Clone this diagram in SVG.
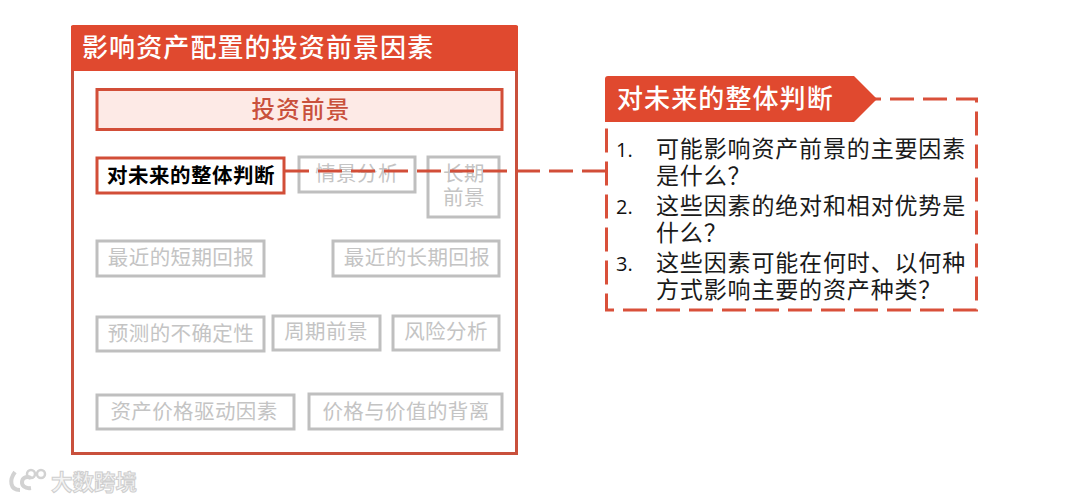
<svg xmlns="http://www.w3.org/2000/svg" width="1065" height="501" viewBox="0 0 1065 501">
<style>
text{font-family:"Noto Sans CJK SC","Liberation Sans",sans-serif}
.g rect{fill:#fff;stroke:#bfbfbf;stroke-width:3}
.g text{fill:#c4c4c4;font-size:20.5px;text-anchor:middle;letter-spacing:.4px}
.li{font-size:23px;fill:#1a1a1a;letter-spacing:.85px}
.n{font-family:"Open Sans",sans-serif;font-size:20px;fill:#111}
</style>
<rect width="1065" height="501" fill="#fff"/>
<g id="panel">
<rect x="72.500" y="27.500" width="444" height="426" fill="#fff" stroke="#c9503c" stroke-width="3"/>
<rect x="71" y="25" width="447" height="46" rx="2" fill="#e0492f"/>
<text x="82" y="57" font-size="26" font-weight="500" fill="#fff" letter-spacing="1.1">影响资产配置的投资前景因素</text>
</g>
<g id="header"><rect x="97" y="89.500" width="405" height="40" fill="#fdeae6" stroke="#d24e38" stroke-width="3"/><text x="301" y="118" font-size="23.500" font-weight="500" fill="#c9503c" text-anchor="middle" letter-spacing="1.2">投资前景</text></g>
<g id="n1" class="g"><rect x="299" y="157" width="116" height="35"/><text x="357" y="181">情景分析</text></g>
<g id="n2" class="g"><rect x="428" y="157" width="71" height="60"/><text x="464" y="181">长期</text><text x="464" y="205">前景</text></g>
<g id="n3" class="g"><rect x="97" y="241" width="167" height="35"/><text x="181" y="265">最近的短期回报</text></g>
<g id="n4" class="g"><rect x="333" y="241" width="166" height="35"/><text x="417" y="265">最近的长期回报</text></g>
<g id="n5" class="g"><rect x="97" y="317" width="167" height="34"/><text x="181" y="341">预测的不确定性</text></g>
<g id="n6" class="g"><rect x="273" y="316" width="107" height="34"/><text x="326" y="339">周期前景</text></g>
<g id="n7" class="g"><rect x="393" y="316" width="106" height="34"/><text x="446" y="339">风险分析</text></g>
<g id="n8" class="g"><rect x="97" y="395" width="197" height="34"/><text x="194" y="419">资产价格驱动因素</text></g>
<g id="n9" class="g"><rect x="309" y="394" width="193" height="35"/><text x="406" y="419">价格与价值的背离</text></g>
<g id="selected"><rect x="97" y="158" width="187" height="35" fill="#fff" stroke="#d24e38" stroke-width="3"/><text x="191" y="183" font-size="20.500" font-weight="700" fill="#000" text-anchor="middle" letter-spacing=".5">对未来的整体判断</text></g>
<g id="connectors" fill="none" stroke="#d24e38" stroke-width="3"><path d="M285 171H607" stroke-dasharray="24 9"/></g>
<g id="callout">
<path d="M857 99H976.500V310H606.500V122" fill="none" stroke="#d9503a" stroke-width="3" stroke-dasharray="24 9"/>
<path d="M605 79Q605 76 608 76H854L877 99 854 122H605Z" fill="#e0492f"/>
<text x="617" y="108" font-size="26" font-weight="500" fill="#fff" letter-spacing="1.1">对未来的整体判断</text>
<text class="n" x="616" y="157">1.</text><text class="n" x="616" y="214">2.</text><text class="n" x="616" y="271">3.</text>
<text class="li" x="656" y="157">可能影响资产前景的主要因素</text>
<text class="li" x="656" y="184">是什么？</text>
<text class="li" x="656" y="214">这些因素的绝对和相对优势是</text>
<text class="li" x="656" y="241">什么？</text>
<text class="li" x="656" y="271">这些因素可能在何时、以何种</text>
<text class="li" x="656" y="298">方式影响主要的资产种类？</text>
</g>
<g id="watermark" fill="none" stroke="#d2d2d2">
<path d="M15 472C9 480 10 490 20 490" stroke-width="4"/><path d="M31 478C20 473 18 490 31 488" stroke-width="4"/><circle cx="31" cy="474" r="4" stroke-width="2.500"/><circle cx="41" cy="474" r="4" stroke-width="2.500"/>
<text x="51" y="490" font-size="21.500" font-weight="700" fill="#f4f4f4" stroke="#cfcfcf" stroke-width="1">大数跨境</text>
</g>
</svg>
